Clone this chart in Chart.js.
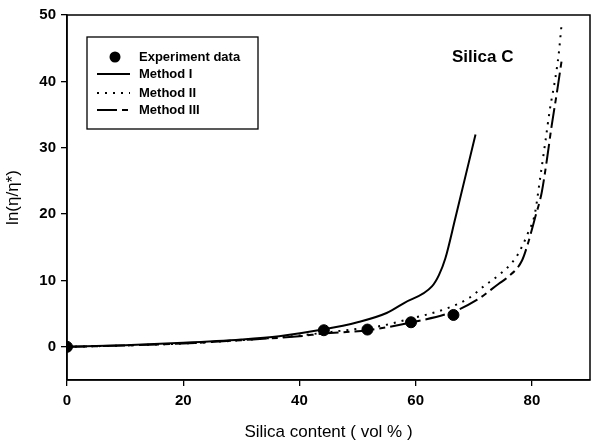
<!DOCTYPE html>
<html>
<head>
<meta charset="utf-8">
<script src="https://cdn.jsdelivr.net/npm/chart.js@4.4.1/dist/chart.umd.min.js"></script>
<style>
  html, body { margin: 0; padding: 0; background: #fff; }
  #grafico { display: block; }
</style>
</head>
<body>
<div style="width:591px;height:445px">
  <canvas id="grafico" width="591" height="445"></canvas>
</div>
<script>
// pontos experimentais
var expX = [0, 44.2, 51.7, 59.2, 66.5]
var expY = [0, 2.5, 2.6, 3.7, 4.8]

// Method I (linha cheia)
var m1X = [0, 10, 20, 30, 36.5, 44, 50, 55, 58, 62.8, 64, 65.1, 66.8, 70.3]
var m1Y = [0, 0.25, 0.6, 1.1, 1.6, 2.6, 3.7, 5.1, 6.6, 9.1, 10.8, 13.3, 19.3, 32.0]

// Method II (pontilhada)
var m2X = [0, 10, 20, 30, 40, 45, 50, 53.7, 59.4, 65.1, 69.1, 71.7, 74.3, 76.5, 77.7, 79.4, 80.5, 81.4, 82.3, 83.1, 84.0, 84.6, 85.1]
var m2Y = [0, 0.2, 0.5, 1.0, 1.7, 2.2, 2.7, 3.1, 4.3, 5.7, 7.3, 9.1, 10.8, 12.6, 14.1, 17.3, 20.0, 25.3, 30.8, 35.8, 40.3, 44.0, 48.5]

// Method III (traco longo - curto)
var m3X = [0, 10, 20, 30, 40, 44.2, 51.7, 59.4, 66.5, 70.6, 74.3, 75.7, 78.3, 79.4, 80.5, 81.7, 82.6, 83.4, 84.3, 85.1]
var m3Y = [0, 0.2, 0.5, 1.0, 1.6, 2.0, 2.5, 3.7, 5.3, 7.1, 9.5, 10.4, 13.0, 15.8, 19.3, 23.3, 28.3, 33.3, 38.3, 43.0]

var xTicks = [0, 20, 40, 60, 80]
var yTicks = [0, 10, 20, 30, 40, 50]

var legendaNomes = ['Experiment data', 'Method I', 'Method II', 'Method III']

function juntar(xs, ys){
    return xs.map(function (x, i){ return {x: x, y: ys[i]} })
}

var fonteBase = '"Liberation Sans", Arial, sans-serif'

var decoracao = {
    id: 'decoracao',
    afterDraw(chart){
        var ctx = chart.ctx
        var area = chart.chartArea
        ctx.save()
        ctx.strokeStyle = '#000'
        ctx.lineWidth = 1.5
        ctx.strokeRect(area.left, area.top, area.right - area.left, area.bottom - area.top)

        // caixa da legenda
        var bx = area.left + 20, by = area.top + 22
        ctx.lineWidth = 1.3
        ctx.strokeRect(bx, by, 171, 92)
        ctx.font = 'bold 13px ' + fonteBase
        ctx.fillStyle = '#000'
        ctx.textBaseline = 'middle'
        var linhasY = [20, 37, 56, 73]
        chart.data.datasets.forEach(function (ds, i){
            var yy = by + linhasY[i]
            if(i == 0){
                ctx.beginPath()
                ctx.arc(bx + 28, yy, 5.5, 0, Math.PI * 2)
                ctx.fill()
            } else {
                ctx.beginPath()
                ctx.setLineDash(ds.borderDash || [])
                ctx.lineWidth = ds.borderWidth
                ctx.moveTo(bx + 10, yy)
                ctx.lineTo(bx + 43, yy)
                ctx.stroke()
                ctx.setLineDash([])
            }
            ctx.fillText(legendaNomes[i], bx + 52, yy)
        })

        ctx.font = 'bold 17px ' + fonteBase
        ctx.fillText('Silica C', area.left + 385, area.top + 42)
        ctx.restore()
    }
}

var config = {
    type: 'scatter',
    data: {
        datasets: [{
            label: legendaNomes[0],
            data: juntar(expX, expY),
            showLine: false,
            pointRadius: 5.5,
            pointBackgroundColor: '#000',
            pointBorderColor: '#000',
            order: 0
        }, {
            label: legendaNomes[1],
            data: juntar(m1X, m1Y),
            showLine: true,
            borderColor: '#000',
            borderWidth: 2,
            pointRadius: 0,
            cubicInterpolationMode: 'monotone',
            order: 1
        }, {
            label: legendaNomes[2],
            data: juntar(m2X, m2Y),
            showLine: true,
            borderColor: '#000',
            borderWidth: 2,
            borderDash: [2, 6],
            pointRadius: 0,
            cubicInterpolationMode: 'monotone',
            order: 2
        }, {
            label: legendaNomes[3],
            data: juntar(m3X, m3Y),
            showLine: true,
            borderColor: '#000',
            borderWidth: 2,
            borderDash: [20, 5, 6, 5],
            pointRadius: 0,
            cubicInterpolationMode: 'monotone',
            order: 3
        }]
    },
    options: {
        responsive: false,
        animation: false,
        layout: { autoPadding: false, padding: { top: 15, right: 1, left: 0, bottom: 0 } },
        plugins: {
            legend: { display: false },
            tooltip: { enabled: false }
        },
        scales: {
            x: {
                type: 'linear',
                min: 0,
                max: 90,
                afterBuildTicks: function (axis){ axis.ticks = xTicks.map(function (v){ return {value: v} }) },
                afterFit: function (axis){
                    axis.height = 65
                    axis.paddingLeft = 0
                    axis.paddingRight = 0
                },
                grid: { display: true, drawOnChartArea: false, drawTicks: true, tickLength: 6, color: '#000', lineWidth: 1.3 },
                border: { display: true, color: '#000', width: 1.5 },
                ticks: { color: '#000', padding: 6, maxRotation: 0, font: { family: fonteBase, size: 15, weight: 'bold' } },
                title: { display: true, text: 'Silica content ( vol % )', color: '#000', padding: { top: 0, bottom: 2 }, font: { family: fonteBase, size: 17 } }
            },
            y: {
                type: 'linear',
                min: -5,
                max: 50,
                afterBuildTicks: function (axis){ axis.ticks = yTicks.map(function (v){ return {value: v} }) },
                afterFit: function (axis){
                    axis.width = 67
                    axis.paddingTop = 0
                    axis.paddingBottom = 0
                },
                grid: { display: true, drawOnChartArea: false, drawTicks: true, tickLength: 6, color: '#000', lineWidth: 1.3 },
                border: { display: true, color: '#000', width: 1.5 },
                ticks: { color: '#000', padding: 5, font: { family: fonteBase, size: 15, weight: 'bold' } },
                title: { display: true, text: 'ln(η/η*)', color: '#000', padding: { top: 3, bottom: 0 }, font: { family: fonteBase, size: 17 } }
            }
        }
    },
    plugins: [decoracao]
}

var myChart = new Chart(document.getElementById('grafico'), config)
</script>
</body>
</html>
